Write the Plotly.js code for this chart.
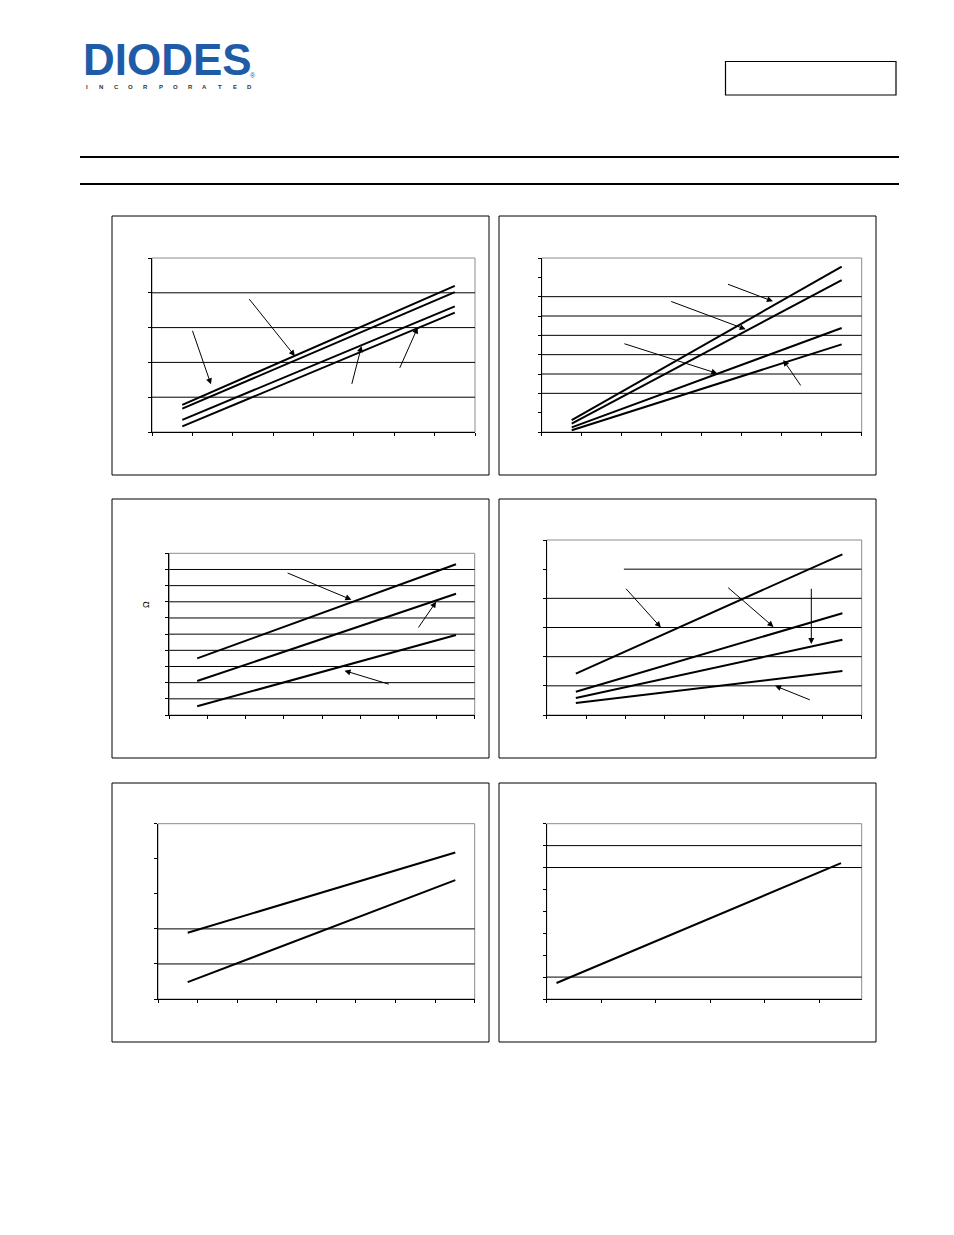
<!DOCTYPE html>
<html>
<head>
<meta charset="utf-8">
<script src="https://cdn.plot.ly/plotly-3.0.1.min.js"></script>
<style>html,body{margin:0;padding:0;background:#fff;}#page{width:954px;height:1235px;}</style>
</head>
<body>
<div id="page"></div>
<script>
// ---- data ----
// Chart 1
const c1x = [0.75, 7.5];
const c1a = [0.78, 4.20];
const c1b = [0.67, 4.02];
const c1c = [0.35, 3.61];
const c1d = [0.16, 3.43];
const c1grid = [1, 2, 3, 4];
// Chart 2
const c2x = [0.75, 7.5];
const c2a = [0.62, 8.55];
const c2b = [0.43, 7.86];
const c2c = [0.24, 5.38];
const c2d = [0.09, 4.53];
const c2grid = [2, 3, 4, 5, 6, 7];
// Chart 3
const c3x = [0.73, 7.51];
const c3a = [3.50, 9.32];
const c3b = [2.10, 7.50];
const c3c = [0.54, 4.95];
const c3grid = [1, 2, 3, 4, 5, 6, 7, 8, 9];
const c3unit = "Ω";
// Chart 4
const c4x = [0.74, 7.51];
const c4a = [1.42, 5.51];
const c4b = [0.80, 3.49];
const c4c = [0.58, 2.58];
const c4d = [0.41, 1.51];
const c4grid = [1, 2, 3, 4];
// Chart 5
const c5x = [0.75, 7.51];
const c5a = [1.89, 4.18];
const c5b = [0.48, 3.39];
const c5grid = [1, 2];
// Chart 6
const c6x = [0.18, 5.40];
const c6a = [0.73, 6.20];
const c6grid = [1, 6, 7];
// Arrow annotations [headX, headY, tailX, tailY] in data units
const c1arrows = [[1.46,1.37,0.99,2.95],[3.54,2.18,2.38,3.86],[5.19,2.47,4.94,1.34],[6.58,3.00,6.12,1.80]];
const c2arrows = [[5.78,6.76,4.62,7.67],[5.10,5.31,3.20,6.78],[4.39,3.03,2.03,4.59],[6.04,3.72,6.50,2.33]];
const c3arrows = [[4.77,7.13,3.06,8.82],[6.99,7.01,6.50,5.32],[4.59,2.74,5.79,1.88]];
const c4arrows = [[2.90,3.00,1.98,4.38],[5.76,3.02,4.57,4.41],[6.72,2.43,6.72,4.38],[5.80,1.00,6.72,0.50]];
const logoText = "DIODES";
const logoSub = "INCORPORATED";

// ---- layout helpers ----
const W = 954, H = 1235;
const px = x => x / W;
const py = y => 1 - y / H;

const panels = [
  {box:[112,216,489,475], plot:[152,258,475,432],   xr:[0,8], yr:[0,5],  dy:1},
  {box:[499,216,876,475], plot:[541.7,258,861.7,432], xr:[0,8], yr:[0,9],  dy:1},
  {box:[112,499,489,758], plot:[169.3,553.3,474.7,715], xr:[0,8], yr:[0,10], dy:1},
  {box:[499,499,876,758], plot:[546.7,540,861.7,715], xr:[0,8], yr:[0,6],  dy:1},
  {box:[112,783,489,1042], plot:[158,823.7,474.7,999], xr:[0,8], yr:[0,5],  dy:1},
  {box:[499,783,876,1042], plot:[546.7,823.7,861.7,999], xr:[0,5.78], yr:[0,8], dy:1}
];

const seriesSets = [
  [c1x,[c1a,c1b,c1c,c1d]],
  [c2x,[c2a,c2b,c2c,c2d]],
  [c3x,[c3a,c3b,c3c]],
  [c4x,[c4a,c4b,c4c,c4d]],
  [c5x,[c5a,c5b]],
  [c6x,[c6a]]
];
const grids = [c1grid,c2grid,c3grid,c4grid,c5grid,c6grid];
const arrowSets = [c1arrows,c2arrows,c3arrows,c4arrows,[],[]];

const data = [];
const layout = {
  width: W, height: H,
  margin:{l:0,r:0,t:0,b:0},
  paper_bgcolor:'#fff', plot_bgcolor:'rgba(0,0,0,0)',
  showlegend:false,
  shapes:[], annotations:[]
};

panels.forEach((p,i)=>{
  const n = i===0 ? '' : String(i+1);
  const xa = 'x'+n, ya = 'y'+n;
  const common = {
    showgrid:false, zeroline:false, showline:true, linecolor:'#000', linewidth:1,
    ticks:'outside', ticklen:3, tickcolor:'#000', tickwidth:1,
    showticklabels:false, fixedrange:true, tickmode:'linear', tick0:0
  };
  layout['xaxis'+n] = Object.assign({}, common, {
    domain:[px(p.plot[0]), px(p.plot[2])], range:p.xr, dtick:1, anchor:ya
  });
  layout['yaxis'+n] = Object.assign({}, common, {
    domain:[py(p.plot[3]), py(p.plot[1])], range:p.yr, dtick:p.dy, anchor:xa
  });
  // outer panel frame
  layout.shapes.push({type:'rect', xref:'paper', yref:'paper',
    x0:px(p.box[0]), x1:px(p.box[2]), y0:py(p.box[3]), y1:py(p.box[1]),
    line:{color:'#000', width:1}, fillcolor:'rgba(0,0,0,0)'});
  // plot area frame (gray)
  layout.shapes.push({type:'rect', xref:xa+' domain', yref:ya+' domain',
    x0:0, x1:1, y0:0, y1:1, line:{color:'#8c8c8c', width:1}, layer:'below'});
  // gridlines
  grids[i].forEach(g=>{
    layout.shapes.push({type:'line', xref:xa+' domain', yref:ya,
      x0:0, x1:1, y0:g, y1:g, line:{color:'#000', width:1}, layer:'below'});
  });
  // series
  const [xs, ys] = seriesSets[i];
  ys.forEach(yv=>{
    data.push({x:xs, y:yv, xaxis:xa, yaxis:ya, mode:'lines',
      line:{color:'#000', width:2}, hoverinfo:'skip'});
  });
  // arrows
  arrowSets[i].forEach(a=>{
    layout.annotations.push({xref:xa, yref:ya, axref:xa, ayref:ya,
      x:a[0], y:a[1], ax:a[2], ay:a[3], text:'', showarrow:true,
      arrowhead:2, arrowsize:1.2, arrowwidth:1, arrowcolor:'#000', standoff:0});
  });
});

// partial top gridline in chart 4
layout.shapes.push({type:'line', xref:'x4', yref:'y4', x0:1.96, x1:8, y0:5, y1:5,
  line:{color:'#000', width:1}, layer:'below'});

// Ω label on chart 3
layout.annotations.push({xref:'paper', yref:'paper', x:px(139), y:py(605),
  text:c3unit, showarrow:false, textangle:-90, font:{family:'Liberation Sans, Arial, sans-serif', size:9, color:'#000'}});

// header rules and box
layout.shapes.push({type:'line', xref:'paper', yref:'paper', x0:px(80), x1:px(899), y0:py(157), y1:py(157), line:{color:'#000', width:2}});
layout.shapes.push({type:'line', xref:'paper', yref:'paper', x0:px(80), x1:px(899), y0:py(184), y1:py(184), line:{color:'#000', width:2}});
layout.shapes.push({type:'rect', xref:'paper', yref:'paper', x0:px(725.5), x1:px(896), y0:py(95), y1:py(61.5), line:{color:'#000', width:1.2}});

// logo
const blue = '#1f5ca8';
layout.annotations.push({xref:'paper', yref:'paper', x:px(81), y:py(59.5), xanchor:'left', yanchor:'middle',
  text:'<b>'+logoText+'</b>', showarrow:false,
  font:{family:'Liberation Sans, Arial, sans-serif', size:44, color:blue}});
layout.annotations.push({xref:'paper', yref:'paper', x:px(253), y:py(75), xanchor:'center', yanchor:'middle',
  text:'®', showarrow:false, font:{family:'Liberation Sans, sans-serif', size:7, color:blue}});
logoSub.split('').forEach((ch,k)=>{
  layout.annotations.push({xref:'paper', yref:'paper', x:px(86.5 + k*14.8), y:py(87), xanchor:'center', yanchor:'middle',
    text:'<b>'+ch+'</b>', showarrow:false,
    font:{family:'Liberation Sans, Arial, sans-serif', size:6, color:'#333'}});
});

Plotly.newPlot('page', data, layout, {staticPlot:true, displayModeBar:false});
</script>
</body>
</html>
